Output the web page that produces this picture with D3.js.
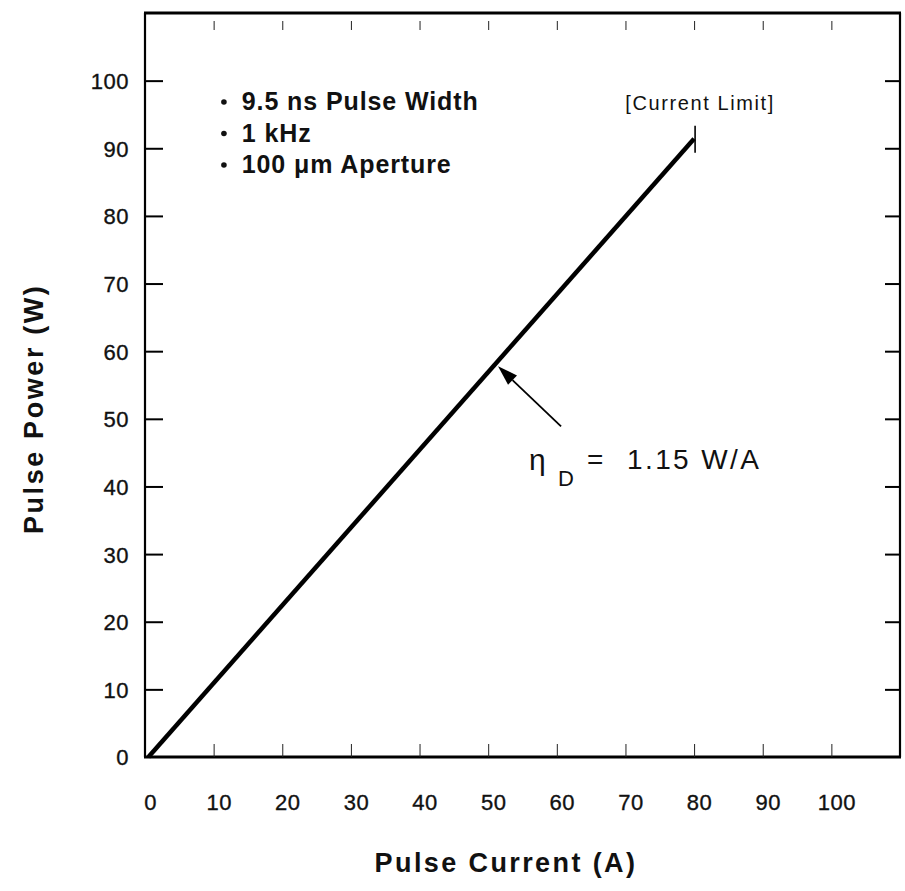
<!DOCTYPE html>
<html>
<head>
<meta charset="utf-8">
<script src="https://cdn.jsdelivr.net/npm/d3@7"></script>
<style>
  html, body { margin: 0; padding: 0; background: #fff; }
  svg { display: block; }
  text { font-family: "Liberation Sans", Arial, Helvetica, sans-serif; fill: #111; }
</style>
</head>
<body>
<svg id="chart" width="905" height="891"></svg>
<script>
// Axis ticks
const xTicks = [0, 10, 20, 30, 40, 50, 60, 70, 80, 90, 100];
const yTicks = [0, 10, 20, 30, 40, 50, 60, 70, 80, 90, 100];

// Measured L-I curve: pulse current (A) vs pulse power (W)
const pulseCurrent = [0.5, 80];
const pulsePower = [0, 91.4];

// Operating conditions
const conditions = ["9.5 ns Pulse Width", "1 kHz", "100 \u03bcm Aperture"];

// Annotations
const slopeEfficiency = 1.15;       // W/A
const arrowAtCurrent = 51;          // A, where the slope arrow touches the curve
const currentLimit = pulseCurrent[1];

const svg = d3.select("#chart");

const frame = { left: 145, right: 900, top: 13, bottom: 757 };
const x = d3.scaleLinear().domain([0, 110]).range([frame.left, frame.right]);
const y = d3.scaleLinear().domain([0, 110]).range([frame.bottom, frame.top]);

// Frame
const g = svg.append("g");
g.append("line").attr("x1", frame.left - 1).attr("x2", frame.right + 1)
  .attr("y1", frame.top).attr("y2", frame.top)
  .attr("stroke", "#000").attr("stroke-width", 3);
g.append("line").attr("x1", frame.left - 1).attr("x2", frame.right + 1)
  .attr("y1", frame.bottom).attr("y2", frame.bottom)
  .attr("stroke", "#000").attr("stroke-width", 3);
g.append("line").attr("x1", frame.left).attr("x2", frame.left)
  .attr("y1", frame.top).attr("y2", frame.bottom)
  .attr("stroke", "#000").attr("stroke-width", 2.2);
g.append("line").attr("x1", frame.right).attr("x2", frame.right)
  .attr("y1", frame.top).attr("y2", frame.bottom)
  .attr("stroke", "#000").attr("stroke-width", 2.2);

// Left axis: ticks pointing inward, labels outside
const yAxisLeft = d3.axisLeft(y).tickValues(yTicks).tickSize(-18).tickPadding(0)
  .tickFormat(d3.format("d"));
const gyl = svg.append("g").attr("transform", `translate(${frame.left},0)`).call(yAxisLeft);
gyl.select(".domain").remove();
gyl.selectAll(".tick line").attr("stroke", "#000").attr("stroke-width", 2);
gyl.selectAll(".tick").filter(d => d === 0).select("line").remove();
gyl.selectAll(".tick text")
  .attr("x", -16).attr("dy", "0.36em")
  .style("font-size", "22px").style("letter-spacing", "0.5px")
  .attr("stroke", "#111").attr("stroke-width", 0.35)
  .attr("text-anchor", "end").attr("fill", "#111");

// Right axis: inward ticks only
const yAxisRight = d3.axisRight(y).tickValues(yTicks.filter(d => d > 0)).tickSize(-15).tickFormat("");
const gyr = svg.append("g").attr("transform", `translate(${frame.right},0)`).call(yAxisRight);
gyr.select(".domain").remove();
gyr.selectAll(".tick line").attr("stroke", "#000").attr("stroke-width", 2);

// Bottom axis: short inward ticks, labels below
const xAxisBottom = d3.axisBottom(x).tickValues(xTicks).tickSize(-13).tickPadding(0)
  .tickFormat(d3.format("d"));
const gxb = svg.append("g").attr("transform", `translate(0,${frame.bottom})`).call(xAxisBottom);
gxb.select(".domain").remove();
gxb.selectAll(".tick line").attr("stroke", "#222").attr("stroke-width", 1);
gxb.selectAll(".tick").filter(d => d === 0).select("line").remove();
gxb.selectAll(".tick text")
  .attr("x", 5).attr("y", 53).attr("dy", 0)
  .style("font-size", "22px").style("letter-spacing", "0.5px")
  .attr("stroke", "#111").attr("stroke-width", 0.35)
  .attr("fill", "#111");

// Top axis: short inward ticks detached from the border
const xAxisTop = d3.axisTop(x).tickValues(xTicks.filter(d => d > 0)).tickSize(0).tickFormat("");
const gxt = svg.append("g").attr("transform", `translate(0,${frame.top})`).call(xAxisTop);
gxt.select(".domain").remove();
gxt.selectAll(".tick").append("line")
  .attr("y1", 8).attr("y2", 17)
  .attr("stroke", "#222").attr("stroke-width", 1);

// Axis titles
svg.append("text")
  .attr("x", 506).attr("y", 872)
  .attr("text-anchor", "middle")
  .style("font-size", "27px").style("font-weight", "bold").style("letter-spacing", "2.4px")
  .text("Pulse Current (A)");
svg.append("text")
  .attr("transform", `translate(43,${(y(0) + y(100)) / 2 - 10}) rotate(-90)`)
  .attr("text-anchor", "middle")
  .style("font-size", "27px").style("font-weight", "bold").style("letter-spacing", "2.6px")
  .text("Pulse Power (W)");

// L-I line
const pts = pulseCurrent.map((c, i) => [c, pulsePower[i]]);
svg.append("path")
  .datum(pts)
  .attr("d", d3.line().x(d => x(d[0])).y(d => y(d[1])))
  .attr("fill", "none").attr("stroke", "#000").attr("stroke-width", 4.5)
  .attr("stroke-linecap", "butt");

// Current-limit marker
const limX = x(currentLimit);
const limY = y(pulsePower[1]);
svg.append("line")
  .attr("x1", limX + 1).attr("x2", limX + 1)
  .attr("y1", limY - 13).attr("y2", limY + 14)
  .attr("stroke", "#000").attr("stroke-width", 1.6);
svg.append("text")
  .attr("x", limX + 6).attr("y", 110)
  .attr("text-anchor", "middle")
  .style("font-size", "20px").style("letter-spacing", "1.6px")
  .text("[Current Limit]");

// Operating-condition bullets
const cond = svg.append("g");
conditions.forEach((t, i) => {
  const by = 110 + i * 31.5;
  cond.append("circle").attr("cx", x(11.5)).attr("cy", by - 8).attr("r", 2.8).attr("fill", "#111");
  cond.append("text")
    .attr("x", x(14.1)).attr("y", by)
    .style("font-size", "25px").style("font-weight", "bold").style("letter-spacing", "0.9px")
    .text(t);
});

// Slope-efficiency arrow
const slope = (pulsePower[1] - pulsePower[0]) / (pulseCurrent[1] - pulseCurrent[0]);
const tipX = x(arrowAtCurrent) + 3;
const tipY = y(slope * (arrowAtCurrent - pulseCurrent[0])) + 2;
const tailX = tipX + 63, tailY = tipY + 60;
const ang = Math.atan2(tipY - tailY, tipX - tailX);
const headLen = 20, headHalf = 6.5;
const bx = tipX - headLen * Math.cos(ang), by = tipY - headLen * Math.sin(ang);
svg.append("line")
  .attr("x1", tailX).attr("y1", tailY).attr("x2", bx).attr("y2", by)
  .attr("stroke", "#000").attr("stroke-width", 1.8);
svg.append("path")
  .attr("d", d3.line()([
    [tipX, tipY],
    [bx + headHalf * Math.sin(ang), by - headHalf * Math.cos(ang)],
    [bx - headHalf * Math.sin(ang), by + headHalf * Math.cos(ang)]
  ]) + "Z")
  .attr("fill", "#000");

// Slope-efficiency label
const lab = svg.append("g");
lab.append("text").attr("x", 529).attr("y", 470)
  .style("font-size", "30px").text("\u03b7");
lab.append("text").attr("x", 558).attr("y", 486)
  .style("font-size", "22px").text("D");
lab.append("text").attr("x", 587).attr("y", 469)
  .style("font-size", "28px").text("=");
lab.append("text").attr("x", 627).attr("y", 469)
  .style("font-size", "28px").style("letter-spacing", "2.4px")
  .text(`${slopeEfficiency.toFixed(2)} W/A`);
</script>
</body>
</html>
